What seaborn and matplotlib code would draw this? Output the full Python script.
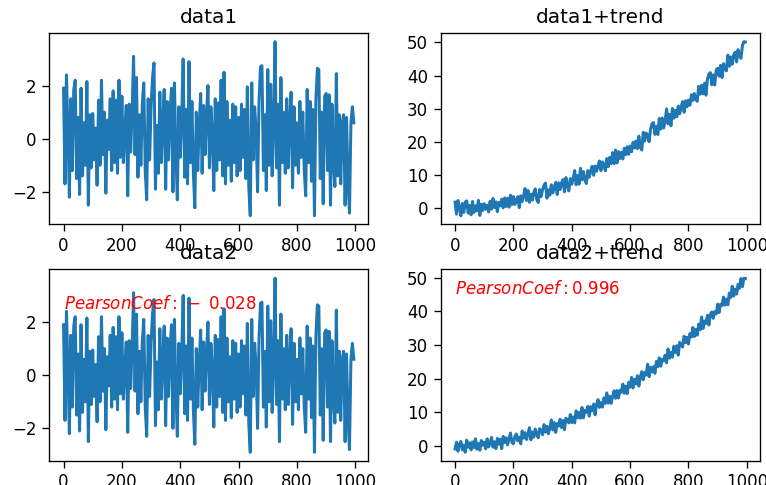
import numpy as np
import matplotlib
matplotlib.use("Agg")
import matplotlib.pyplot as plt
import seaborn as sns

# sample positions (every 5th step of 0..999)
x = list(range(0, 1000, 5))

# noise
data1 = [
    1.9, -1.7, 2.4, 0.3, -2.2, 1.5, -1.2, 1.85, 2.2, -1.5, 0.8, -2.1, 1.9, -1.4, 0.6, -1.0, 2.15, -2.5, 0.9, -1.1,
    0.95, -0.8, 0.4, -1.75, 1.45, -1.0, 2.2, -0.6, 1.0, -2.05, 0.7, -0.4, 1.5, -1.2, 1.8, -0.9, 1.45, -1.3, 2.2, -0.7,
    1.6, -0.9, 0.3, 1.25, -2.15, 1.3, -0.5, 1.0, 3.1, -0.6, 2.3, -1.45, 0.9, -1.0, 1.3, 2.1, -1.2, -2.3, 1.5, -0.8,
    1.2, 2.3, 2.85, -1.9, 0.5, -1.3, 1.75, -0.9, 0.6, 1.85, -1.9, 1.4, -0.8, 1.0, 1.9, -2.0, 2.1, -0.5, -2.3, 1.2,
    -0.7, 0.8, 3.0, -1.45, 1.1, -1.7, 2.9, -0.9, 1.4, -1.3, -2.6, 1.0, -1.2, 0.5, 1.7, -1.3, 1.25, -0.6, 0.9, 2.0,
    -1.1, 1.2, 0.2, -1.95, 1.5, -1.2, 1.35, -0.8, 2.2, -1.4, 2.5, -1.7, 1.4, -1.0, 0.7, -1.6, 1.3, -0.9, 1.2, -1.4,
    0.8, -1.2, 1.3, -0.7, 1.1, -1.5, 1.95, -1.85, -2.9, 2.1, -0.8, 1.2, 0.3, -2.0, 1.4, 2.7, 2.75, -1.2, 0.9, -1.95,
    2.6, -1.0, 2.05, -1.4, 0.5, 3.65, -1.1, 1.3, -2.5, 2.3, -0.9, 1.0, -1.3, 1.5, -1.1, 0.7, 1.75, -1.85, 1.2, -1.0,
    0.6, -1.3, 1.4, -0.7, 1.0, -1.2, -2.15, 1.85, -0.9, 1.4, -1.6, 1.1, -2.9, 1.5, 2.65, 2.6, -1.5, 1.0, -2.45, 1.6,
    1.7, -1.2, 1.65, -2.5, 1.3, -0.9, -1.8, 2.45, -1.4, 0.9, -1.7, 0.6, 0.9, -2.5, 0.8, -1.6, -2.8, 0.6, 1.2, 0.6,
]

data2 = [
    -0.8, 1.2, -1.5, 0.6, 1.4, -1.1, 0.3, -1.9, 1.7, -0.4, 0.9, -1.3, 1.1, -0.6, 2.0, -1.2, 0.5, -1.6, 1.3, -0.2,
    0.7, -1.4, 1.6, -0.9, 0.2, 1.8, -1.1, 0.4, -1.7, 1.2, -0.5, 0.9, -2.0, 1.5, -0.3, 1.0, -1.2, 0.6, 2.1, -0.8,
    -1.3, 0.8, 1.4, -0.7, 0.3, -1.8, 1.9, -0.4, 1.1, -1.0, 0.5, 2.2, -1.5, 0.7, -0.9, 1.3, -0.2, -1.6, 1.0, 0.4,
    -1.1, 1.7, -0.6, 0.9, -1.4, 0.2, 2.4, -0.8, 1.2, -1.9, 0.6, -0.3, 1.5, -1.2, 0.8, -2.1, 1.1, 0.3, -0.7, 1.6,
    -1.0, 0.5, -1.5, 1.9, -0.4, 1.0, -0.9, 2.0, -1.3, 0.7, -0.1, 1.4, -1.7, 0.9, -0.5, 1.2, -2.2, 0.6, 1.8, -0.8,
    0.4, -1.2, 1.3, -0.6, 2.3, -1.0, 0.8, -1.6, 0.2, 1.5, -0.9, 1.1, -1.4, 0.6, -0.2, 1.9, -1.1, 0.7, -1.8, 1.2,
    -0.5, 2.1, -1.3, 0.9, -0.7, 1.4, -2.0, 0.3, 1.6, -1.1, 0.8, -0.4, 2.5, -1.5, 1.0, -0.8, 0.5, -1.9, 1.3, -0.6,
    1.7, -1.2, 0.6, -0.3, 1.1, -1.6, 2.2, -0.9, 0.4, -1.4, 1.5, -0.7, 0.9, -2.3, 1.2, 0.1, -1.0, 1.8, -0.5, 0.7,
    -1.7, 1.0, -0.4, 2.0, -1.1, 0.6, -1.5, 1.3, -0.8, 2.6, -1.2, 0.5, -0.6, 1.4, -1.9, 0.8, 1.1, -1.3, 0.3, -0.9,
    1.6, -1.4, 0.7, -0.2, 1.9, -1.0, 0.4, -1.8, 1.2, -0.6, 2.3, -1.1, 0.5, -1.5, 1.0, -0.7, 1.7, -1.2, 0.8, 0.2,
]

# trend
trend = [
    0.0, 0.0, 0.0, 0.0, 0.0, 0.0, 0.0, 0.1, 0.1, 0.1, 0.1, 0.2, 0.2, 0.2, 0.2, 0.3, 0.3, 0.4, 0.4, 0.5,
    0.5, 0.6, 0.6, 0.7, 0.7, 0.8, 0.8, 0.9, 1.0, 1.1, 1.1, 1.2, 1.3, 1.4, 1.4, 1.5, 1.6, 1.7, 1.8, 1.9,
    2.0, 2.1, 2.2, 2.3, 2.4, 2.5, 2.6, 2.8, 2.9, 3.0, 3.1, 3.3, 3.4, 3.5, 3.6, 3.8, 3.9, 4.1, 4.2, 4.4,
    4.5, 4.7, 4.8, 5.0, 5.1, 5.3, 5.4, 5.6, 5.8, 6.0, 6.1, 6.3, 6.5, 6.7, 6.8, 7.0, 7.2, 7.4, 7.6, 7.8,
    8.0, 8.2, 8.4, 8.6, 8.8, 9.0, 9.2, 9.5, 9.7, 9.9, 10.1, 10.4, 10.6, 10.8, 11.0, 11.3, 11.5, 11.8, 12.0, 12.3,
    12.5, 12.8, 13.0, 13.3, 13.5, 13.8, 14.0, 14.3, 14.6, 14.9, 15.1, 15.4, 15.7, 16.0, 16.2, 16.5, 16.8, 17.1, 17.4, 17.7,
    18.0, 18.3, 18.6, 18.9, 19.2, 19.5, 19.8, 20.2, 20.5, 20.8, 21.1, 21.5, 21.8, 22.1, 22.4, 22.8, 23.1, 23.5, 23.8, 24.2,
    24.5, 24.9, 25.2, 25.6, 25.9, 26.3, 26.6, 27.0, 27.4, 27.8, 28.1, 28.5, 28.9, 29.3, 29.6, 30.0, 30.4, 30.8, 31.2, 31.6,
    32.0, 32.4, 32.8, 33.2, 33.6, 34.0, 34.4, 34.9, 35.3, 35.7, 36.1, 36.6, 37.0, 37.4, 37.8, 38.3, 38.7, 39.2, 39.6, 40.1,
    40.5, 41.0, 41.4, 41.9, 42.3, 42.8, 43.2, 43.7, 44.2, 44.7, 45.1, 45.6, 46.1, 46.6, 47.0, 47.5, 48.0, 48.5, 49.0, 49.5,
]

titles = ["data1", "data1+trend", "data2", "data2+trend"]
coef_labels = ["$PearsonCoef:\\,-\\;0.028$", "$PearsonCoef: 0.996$"]
x_ticks = [0, 200, 400, 600, 800, 1000]
trend_ticks = [0, 10, 20, 30, 40, 50]

data1_trend = np.array(data1) + np.array(trend)
data2_trend = np.array(data2) + np.array(trend)

fig, axes = plt.subplots(2, 2, figsize=(766 / 120, 485 / 120), dpi=120)
fig.subplots_adjust(left=0.064, right=0.992, top=0.932, bottom=0.0495,
                    wspace=0.226, hspace=0.235)

# left column shows the same noise in both rows, as in the picture
series = [data1, data1_trend, data1, data2_trend]
for ax, y, t in zip(axes.flat, series, titles):
    sns.lineplot(x=x, y=y, ax=ax, color="#1f77b4", linewidth=1.8)
    ax.set_title(t)
    ax.set_xticks(x_ticks)
    ax.tick_params(length=4)

for ax in axes[:, 1]:
    ax.set_yticks(trend_ticks)

axes[1, 0].text(0, 2.5, coef_labels[0], color="red")
axes[1, 1].text(0, 45, coef_labels[1], color="red")

plt.savefig("out.png", dpi=120)
